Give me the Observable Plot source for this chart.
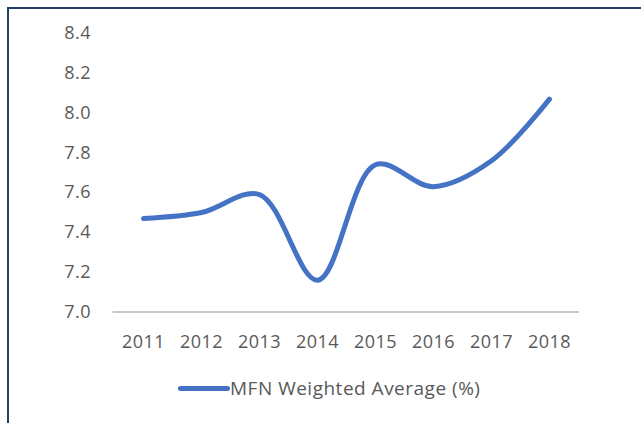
<!DOCTYPE html>
<html>
<head>
<meta charset="utf-8">
<script src="https://cdn.jsdelivr.net/npm/d3@7"></script>
<script src="https://cdn.jsdelivr.net/npm/@observablehq/plot@0.6"></script>
<style>
  html, body { margin: 0; padding: 0; background: #fff; }
  #wrap { position: relative; width: 641px; height: 423px; overflow: hidden; background: #fff; }
  #frame { position: absolute; left: 7px; top: 7px; right: 0; bottom: 0;
           border-top: 2px solid #243f66; border-left: 2px solid #243f66; }
  #chart { position: absolute; left: 0; top: 0; }
  #legend { position: absolute; left: 178px; top: 375px; display: flex; align-items: center;
            font-family: "Open Sans", sans-serif; font-size: 19px; letter-spacing: 0.5px; color: #595959; }
  #legend .sw { width: 52px; height: 5px; background: #4472C4; border-radius: 3px; }
</style>
</head>
<body>
<div id="wrap">
  <div id="frame"></div>
  <div id="chart"></div>
  <div id="legend"><span class="sw"></span><span>MFN Weighted Average (%)</span></div>
</div>
<script>
const years = ["2011", "2012", "2013", "2014", "2015", "2016", "2017", "2018"];
const values = [7.47, 7.50, 7.59, 7.16, 7.74, 7.63, 7.76, 8.07];
const yTicks = [7.0, 7.2, 7.4, 7.6, 7.8, 8.0, 8.2, 8.4];

const data = years.map((y, i) => ({year: y, value: values[i]}));

const chart = Plot.plot({
  width: 641,
  height: 365,
  marginTop: 33,
  marginBottom: 53.5,
  marginLeft: 112.5,
  marginRight: 62,
  style: {fontFamily: "'Open Sans', sans-serif", fontSize: "18px", color: "#595959", letterSpacing: "0.5px", background: "transparent"},
  x: {type: "point", domain: years, padding: 0.5, label: null},
  y: {domain: [7, 8.4], label: null},
  marks: [
    Plot.axisY({ticks: yTicks, tickSize: 0, tickPadding: 22, tickFormat: d => d.toFixed(1), label: null}),
    Plot.axisX({tickSize: 0, tickPadding: 23, label: null}),
    Plot.ruleY([7], {stroke: "#c9c9c9", strokeWidth: 2}),
    Plot.line(data, {x: "year", y: "value", curve: "catmull-rom", stroke: "#4472C4", strokeWidth: 5, strokeLinecap: "round", strokeLinejoin: "round"})
  ]
});
document.getElementById("chart").appendChild(chart);
</script>
</body>
</html>
